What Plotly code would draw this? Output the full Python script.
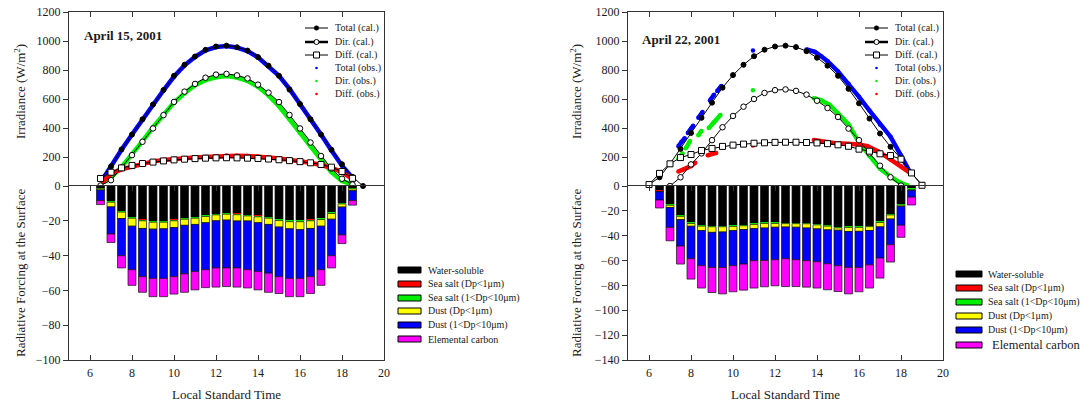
import plotly.graph_objects as go

# page body has an 8px margin: figure occupies window pixels 8..1088 x 8..408
OFF = 8
W, H = 1080, 400
FONT = "Liberation Serif"
TXT = "#1a1a1a"

# ---------------- data: April 15 (left) ----------------
bar_time = [6.5, 7.0, 7.5, 8.0, 8.5, 9.0, 9.5, 10.0, 10.5, 11.0, 11.5, 12.0, 12.5,
            13.0, 13.5, 14.0, 14.5, 15.0, 15.5, 16.0, 16.5, 17.0, 17.5, 18.0, 18.5]

ws_L = [-1.2, -8.8, -14.5, -18.0, -19.5, -20.3, -20.3, -19.5, -18.6, -18.0, -17.0, -16.1, -15.7,
        -16.0, -16.7, -17.2, -18.0, -19.3, -20.0, -20.0, -19.5, -18.8, -15.3, -9.8, -1.3]
ssf_L = [-0.1, -0.1, -0.1, -0.1, -0.1, -0.1, -0.1, -0.1, -0.1, -0.1, -0.1, -0.1, -0.1,
         -0.1, -0.1, -0.1, -0.1, -0.1, -0.1, -0.1, -0.1, -0.1, -0.1, -0.1, -0.1]
ssc_L = [-0.3, -0.4, -0.4, -0.4, -0.4, -0.4, -0.4, -0.4, -0.4, -0.4, -0.4, -0.4, -0.4,
         -0.4, -0.4, -0.4, -0.4, -0.4, -0.4, -0.4, -0.4, -0.4, -0.4, -0.4, -0.3]
duf_L = [-0.7, -2.7, -3.7, -4.6, -4.4, -4.0, -3.8, -3.9, -3.5, -3.6, -3.6, -3.4, -3.4,
         -3.6, -2.9, -3.4, -3.6, -3.8, -4.1, -4.6, -4.4, -3.8, -3.3, -1.8, -1.0]
duc_L = [-6.1, -15.6, -21.4, -25.0, -27.7, -28.3, -28.5, -28.2, -27.9, -27.0, -27.0, -27.1, -27.5,
         -27.0, -28.0, -28.0, -28.0, -28.5, -28.5, -28.0, -27.7, -25.0, -21.0, -16.0, -5.7]
ec_L = [-2.3, -4.9, -7.0, -9.0, -9.0, -10.5, -10.5, -10.0, -10.6, -10.6, -10.3, -11.0, -10.7,
        -11.0, -10.5, -10.6, -11.0, -9.7, -10.5, -10.5, -9.7, -9.0, -7.0, -5.0, -2.6]

total_time_L = [6.5, 7.0, 7.5, 8.0, 8.5, 9.0, 9.5, 10.0, 10.5, 11.0, 11.5, 12.0, 12.5,
                13.0, 13.5, 14.0, 14.5, 15.0, 15.5, 16.0, 16.5, 17.0, 17.5, 18.0, 18.5, 19.0]
total_cal_L = [55, 135, 252, 355, 460, 562, 662, 760, 836, 893, 939, 962, 968,
               957, 934, 889, 830, 760, 665, 565, 460, 355, 250, 150, 63, 0]
dd_time_L = [6.5, 7.0, 7.5, 8.0, 8.5, 9.0, 9.5, 10.0, 10.5, 11.0, 11.5, 12.0, 12.5,
             13.0, 13.5, 14.0, 14.5, 15.0, 15.5, 16.0, 16.5, 17.0, 17.5, 18.0, 18.5]
dir_cal_L = [3, 40, 127, 213, 305, 397, 489, 580, 651, 704, 747, 768, 773,
             763, 742, 699, 644, 579, 490, 397, 300, 207, 120, 50, 10]
diff_cal_L = [52, 95, 125, 142, 155, 165, 173, 180, 185, 189, 192, 194, 195,
              194, 192, 190, 186, 181, 175, 168, 160, 148, 130, 100, 53]

tot_obs_t_L = [6.6, 7.0, 7.5, 8.0, 8.5, 9.0, 9.5, 10.0, 10.5, 11.0, 11.5, 12.0, 12.5,
               13.0, 13.5, 14.0, 14.5, 15.0, 15.5, 16.0, 16.5, 17.0, 17.5, 18.0, 18.5]
tot_obs_L = [45, 140, 250, 355, 460, 565, 660, 755, 832, 890, 935, 958, 965,
             955, 930, 888, 828, 760, 670, 568, 462, 355, 245, 140, 55]
dir_obs_t_L = [6.7, 7.0, 7.5, 8.0, 8.5, 9.0, 9.5, 10.0, 10.5, 11.0, 11.5, 12.0, 12.5,
               13.0, 13.5, 14.0, 14.5, 15.0, 15.5, 16.0, 16.5, 17.0, 17.5, 18.0, 18.4]
dir_obs_L = [30, 60, 130, 215, 310, 405, 495, 575, 640, 695, 730, 750, 758,
             748, 725, 685, 625, 550, 460, 365, 272, 183, 95, 35, 15]
dif_obs_t_L = [6.6, 7.0, 7.5, 8.0, 8.5, 9.0, 9.5, 10.0, 10.5, 11.0, 11.5, 12.0, 12.5,
               13.0, 13.5, 14.0, 14.5, 15.0, 15.5, 16.0, 16.5, 17.0, 17.5, 18.0, 18.4]
dif_obs_L = [27, 85, 115, 135, 155, 170, 180, 188, 193, 197, 200, 205, 210,
             209, 207, 204, 197, 190, 182, 172, 160, 145, 126, 95, 57]

# ---------------- data: April 22 (right) ----------------
ws_R = [-4.0, -15.0, -23.9, -29.6, -31.8, -32.3, -32.3, -32.0, -31.5, -30.4, -29.6, -29.6, -29.8,
        -29.8, -29.9, -30.8, -31.8, -33.2, -32.8, -32.8, -32.2, -28.8, -22.8, -14.9, -2.0]
ssf_R = [-0.1, -0.1, -0.1, -0.1, -0.1, -0.1, -0.1, -0.1, -0.1, -0.1, -0.1, -0.1, -0.1,
         -0.1, -0.1, -0.1, -0.1, -0.1, -0.1, -0.1, -0.1, -0.1, -0.1, -0.1, -0.1]
ssc_R = [-0.3, -0.4, -0.4, -0.4, -0.4, -0.4, -0.4, -0.4, -0.4, -0.4, -0.4, -0.4, -0.4,
         -0.4, -0.4, -0.4, -0.4, -0.4, -0.4, -0.4, -0.4, -0.4, -0.4, -0.4, -1.0]
duf_R = [-0.2, -1.8, -2.7, -2.3, -3.6, -4.5, -4.2, -3.4, -3.1, -3.4, -3.7, -3.1, -2.7,
         -2.9, -3.4, -3.2, -3.0, -1.9, -3.3, -3.2, -3.1, -3.6, -3.3, -1.0, -0.4]
duc_R = [-6.7, -16.0, -21.2, -26.1, -28.2, -28.2, -28.5, -28.2, -27.7, -25.8, -26.1, -26.1, -25.5,
         -26.1, -26.3, -26.4, -27.3, -28.5, -28.9, -29.0, -27.6, -25.1, -20.6, -15.2, -5.5]
ec_R = [-6.4, -10.8, -14.5, -16.4, -18.0, -20.2, -21.3, -21.0, -21.0, -22.0, -21.2, -21.0, -22.4,
        -21.6, -21.3, -21.2, -20.9, -20.8, -21.3, -19.6, -18.7, -16.1, -14.0, -9.7, -6.3]

cal_time_R = [6.0, 6.5, 7.0, 7.5, 8.0, 8.5, 9.0, 9.5, 10.0, 10.5, 11.0, 11.5, 12.0, 12.5,
              13.0, 13.5, 14.0, 14.5, 15.0, 15.5, 16.0, 16.5, 17.0, 17.5, 18.0, 18.5, 19.0]
total_cal_R = [10, 60, 153, 256, 366, 470, 575, 678, 765, 836, 895, 940, 962, 968,
               958, 930, 885, 830, 760, 670, 570, 465, 362, 270, 188, 90, 5]
diff_cal_R = [10, 87, 153, 196, 217, 245, 259, 273, 282, 289, 295, 298, 301, 302,
              302, 300, 297, 292, 284, 274, 254, 240, 222, 210, 185, 90, 5]
dir_time_R = [7.0, 7.5, 8.0, 8.5, 9.0, 9.5, 10.0, 10.5, 11.0, 11.5, 12.0, 12.5,
              13.0, 13.5, 14.0, 14.5, 15.0, 15.5, 16.0, 16.5, 17.0, 17.5, 18.0]
dir_cal_R = [0, 60, 149, 225, 316, 405, 483, 547, 600, 642, 661, 666,
             656, 630, 588, 538, 476, 396, 316, 225, 140, 60, 3]

tot_obs_t_R = [7.4, 7.55, 7.7, None, 7.85, 8.0, 8.1, None, 8.35, 8.55, None, 8.9, 9.1, None,
               9.25, 9.45, None, 10.95, None, 13.5, 13.9, 14.2, 14.5, 15.0, 15.5, 16.0, 16.5,
               17.0, 17.5, 18.0, 18.45]
tot_obs_R = [275, 305, 330, None, 365, 395, 415, None, 470, 510, None, 590, 630, None,
             655, 690, None, 935, None, 942, 925, 895, 860, 790, 705, 615, 520,
             425, 340, 210, 90]
dir_obs_t_R = [7.4, 7.6, None, 7.75, 7.95, None, 8.35, 8.5, None, 8.85, 9.1, 9.4, None,
               10.95, None, 13.85, 14.2, 14.6, 15.0, 15.5, 16.0, 16.5, 17.0, 17.5, 18.0, 18.3]
dir_obs_R = [190, 225, None, 260, 310, None, 350, 380, None, 400, 440, 490, None,
             660, None, 605, 590, 560, 502, 425, 300, 206, 120, 65, 20, 5]
dif_obs_t_R = [7.4, 7.6, 7.8, 8.0, 8.2, None, 8.8, 9.0, 9.2, None, 10.95, None,
               13.85, 14.2, 14.6, 15.0, 15.5, 16.0, 16.4, 16.9, 17.5, 18.0, 18.45]
dif_obs_R = [100, 110, 125, 138, 160, None, 212, 222, 228, None, 280, None,
             318, 306, 300, 294, 290, 286, 275, 240, 183, 137, 88]

x_ticks = [6, 8, 10, 12, 14, 16, 18, 20]
irr_ticks = [0, 200, 400, 600, 800, 1000, 1200]
rf_ticks_L = [-100, -80, -60, -40, -20]
rf_ticks_R = [-140, -120, -100, -80, -60, -40, -20]

aer_names = ["Water-soluble", "Sea salt (Dp&lt;1μm)", "Sea salt (1&lt;Dp&lt;10μm)",
             "Dust (Dp&lt;1μm)", "Dust (1&lt;Dp&lt;10μm)", "Elemental carbon"]
aer_colors = ["#000000", "#ff0000", "#00ee00", "#ffff00", "#0000ff", "#ff00ff"]
irr_names = ["Total (cal.)", "Dir. (cal.)", "Diff. (cal.)",
             "Total (obs.)", "Dir. (obs.)", "Diff. (obs.)"]
obs_colors = ["#0000ff", "#00ee00", "#ff0000"]


def P(x):
    return (x - OFF) / W


def Q(y):
    return 1 - (y - OFF) / H


fig = go.Figure()

panels = [
    dict(xu="x", yu="y", xl="x2", yl="y2",
         bars=[ws_L, ssf_L, ssc_L, duf_L, duc_L, ec_L],
         obs=[(tot_obs_t_L, tot_obs_L), (dir_obs_t_L, dir_obs_L), (dif_obs_t_L, dif_obs_L)],
         cal=[(total_time_L, total_cal_L), (dd_time_L, dir_cal_L), (dd_time_L, diff_cal_L)]),
    dict(xu="x3", yu="y3", xl="x4", yl="y4",
         bars=[ws_R, ssf_R, ssc_R, duf_R, duc_R, ec_R],
         obs=[(tot_obs_t_R, tot_obs_R), (dir_obs_t_R, dir_obs_R), (dif_obs_t_R, dif_obs_R)],
         cal=[(cal_time_R, total_cal_R), (dir_time_R, dir_cal_R), (cal_time_R, diff_cal_R)]),
]

for pn in panels:
    for vals, col, name in zip(pn["bars"], aer_colors, aer_names):
        thin = col in ("#ff0000", "#00ee00")
        fig.add_trace(go.Bar(x=bar_time, y=vals, width=0.38, name=name, showlegend=False,
                             marker=dict(color=col, line=dict(color="#111",
                                                              width=0 if thin else 0.7)),
                             xaxis=pn["xl"], yaxis=pn["yl"]))
    for (tx, vy), col in zip(pn["obs"], obs_colors):
        fig.add_trace(go.Scatter(x=tx, y=vy, mode="lines+markers", showlegend=False,
                                 line=dict(color=col, width=4.5), marker=dict(color=col, size=4.5),
                                 connectgaps=False, xaxis=pn["xu"], yaxis=pn["yu"]))
    styles = [dict(symbol="circle", size=5, color="black", line=dict(color="black", width=1)),
              dict(symbol="circle", size=5.5, color="white", line=dict(color="black", width=1)),
              dict(symbol="square", size=6, color="white", line=dict(color="black", width=1))]
    for (tx, vy), st in zip(pn["cal"], styles):
        fig.add_trace(go.Scatter(x=tx, y=vy, mode="lines+markers", showlegend=False,
                                 line=dict(color="black", width=1), marker=st, cliponaxis=False,
                                 xaxis=pn["xu"], yaxis=pn["yu"]))

tickfont = dict(family=FONT, size=12, color=TXT)
axc = dict(showline=True, linecolor="#333", linewidth=1, showgrid=False, zeroline=False,
           tickcolor="#333", tickfont=tickfont)

yu_dom = [Q(186), Q(12)]
yl_dom = [Q(360), Q(186)]
xL_dom = [P(69), P(384)]
xR_dom = [P(628), P(943)]

layout_axes = {}
for (xu, yu, xl, yl, xdom, rfr, rft) in [("xaxis", "yaxis", "xaxis2", "yaxis2", xL_dom, [-100, 0], rf_ticks_L),
                                         ("xaxis3", "yaxis3", "xaxis4", "yaxis4", xR_dom, [-140, 0], rf_ticks_R)]:
    yu_id = yu.replace("axis", "")
    yl_id = yl.replace("axis", "")
    xu_id = xu.replace("axis", "")
    xl_id = xl.replace("axis", "")
    layout_axes[xu] = dict(axc, domain=xdom, range=[5, 20], anchor=yu_id, side="top",
                           ticks="inside", ticklen=5, tickvals=x_ticks, showticklabels=False)
    layout_axes[yu] = dict(axc, domain=yu_dom, range=[0, 1200], anchor=xu_id, ticks="outside",
                           ticklen=5, tickvals=irr_ticks, mirror=True, ticklabeloverflow="allow")
    layout_axes[xl] = dict(axc, domain=xdom, range=[5, 20], anchor=yl_id, side="bottom",
                           ticks="inside", ticklen=5, tickvals=x_ticks, mirror="ticks",
                           ticklabelstandoff=2, ticklabeloverflow="allow")
    layout_axes[yl] = dict(axc, domain=yl_dom, range=rfr, anchor=xl_id, ticks="outside",
                           ticklen=5, tickvals=rft, mirror=True)

shapes = []
annotations = []


def text(x, y, s, size=10, anchor="left", angle=0, bold=False):
    annotations.append(dict(xref="paper", yref="paper", x=P(x), y=Q(y), text=("<b>%s</b>" % s) if bold else s,
                            showarrow=False, xanchor=anchor, yanchor="middle", textangle=angle,
                            font=dict(family=FONT, size=size, color=TXT)))


def circle(cx, cy, r, fill, lw=1, lc="black"):
    shapes.append(dict(type="circle", xref="paper", yref="paper", x0=P(cx - r), x1=P(cx + r),
                       y0=Q(cy + r), y1=Q(cy - r), fillcolor=fill, line=dict(color=lc, width=lw)))


# upper (irradiance) legends
irr_rows = [28, 42, 55, 68, 81, 94]
for sx0, sx1, tx in [(305, 328, 333), (865, 888, 893)]:
    cx = (sx0 + sx1) / 2
    for i, (row, name) in enumerate(zip(irr_rows, irr_names)):
        if i < 3:
            shapes.append(dict(type="line", xref="paper", yref="paper", x0=P(sx0), x1=P(sx1),
                               y0=Q(row), y1=Q(row), line=dict(color="black", width=2.5 if i == 1 else 1)))
            if i == 0:
                circle(cx, row, 2.3, "black", 0.5)
            elif i == 1:
                circle(cx, row, 2.5, "white", 1)
            else:
                shapes.append(dict(type="rect", xref="paper", yref="paper", x0=P(cx - 3), x1=P(cx + 3),
                                   y0=Q(row + 3), y1=Q(row - 3), fillcolor="white",
                                   line=dict(color="black", width=1)))
        else:
            circle(cx, row, 1.3, obs_colors[i - 3], 0, obs_colors[i - 3])
        text(tx, row, name, 10)

# lower (aerosol) legends
for rx0, rx1, tx, rows in [(398, 421, 426, [270, 284, 298, 311, 325, 339]),
                           (956, 982, 986, [274, 288, 302, 316, 330, 345])]:
    for i, (row, name, col) in enumerate(zip(rows, aer_names, aer_colors)):
        shapes.append(dict(type="rect", xref="paper", yref="paper", x0=P(rx0), x1=P(rx1),
                           y0=Q(row + 3), y1=Q(row - 3), fillcolor=col, line=dict(color="black", width=1)))
        big = (rx0 == 956 and i == 5)
        text(tx + (4 if big else 0), row, name, 12.5 if big else 10)

# dates and axis titles
text(82, 35, "April 15, 2001", 13, bold=True)
text(640, 40, "April 22, 2001", 13, bold=True)
for xc in (20, 576):
    text(xc, 92, "Irradiance (W/m<sup>2</sup>)", 13, anchor="center", angle=-90)
    text(xc, 273, "Radiative Forcing at the Surface", 13, anchor="center", angle=-90)
text(226, 394, "Local Standard Time", 13, anchor="center")
text(785, 394, "Local Standard Time", 13, anchor="center")

fig.update_layout(width=W, height=H, margin=dict(l=0, r=0, t=0, b=0, autoexpand=False),
                  paper_bgcolor="white", plot_bgcolor="white", barmode="relative",
                  showlegend=False, shapes=shapes, annotations=annotations,
                  font=dict(family=FONT, color=TXT), **layout_axes)

fig.write_html("out.html")
